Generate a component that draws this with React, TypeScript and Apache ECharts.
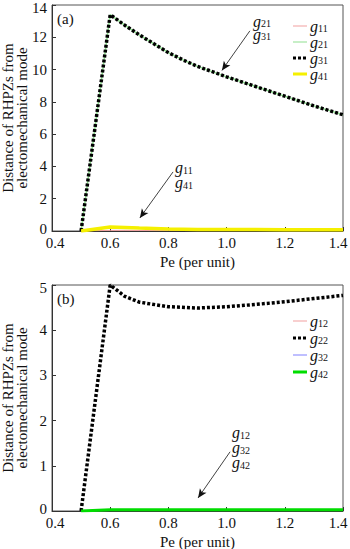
import React, { useEffect, useRef } from 'react';
import * as echarts from 'echarts';

// ---- data ----
const peA = [0.5, 0.6, 0.65, 0.7, 0.75, 0.8, 0.85, 0.9, 1.0, 1.1, 1.2, 1.3, 1.4];
const g11 = [0, 0.04, 0.04, 0.03, 0.03, 0.03, 0.03, 0.03, 0.03, 0.03, 0.03, 0.03, 0.03];
const g21 = [0, 13.4, 12.75, 12.15, 11.6, 11.05, 10.6, 10.2, 9.55, 8.95, 8.35, 7.75, 7.2];
const g31 = [0, 13.4, 12.75, 12.15, 11.6, 11.05, 10.6, 10.2, 9.55, 8.95, 8.35, 7.75, 7.2];
const g41 = [0, 0.25, 0.22, 0.18, 0.15, 0.12, 0.11, 0.1, 0.09, 0.09, 0.08, 0.08, 0.08];

const peB = [0.5, 0.6, 0.65, 0.7, 0.8, 0.9, 1.0, 1.1, 1.2, 1.3, 1.4];
const g12 = [0, 0.01, 0.01, 0.01, 0.01, 0.01, 0.01, 0.01, 0.01, 0.01, 0.01];
const g22 = [0, 5.0, 4.75, 4.62, 4.52, 4.49, 4.52, 4.57, 4.63, 4.7, 4.77];
const g32 = [0, 0.01, 0.01, 0.01, 0.01, 0.01, 0.01, 0.01, 0.01, 0.01, 0.01];
const g42 = [0, 0.03, 0.03, 0.03, 0.03, 0.03, 0.03, 0.03, 0.03, 0.03, 0.03];

const xTicks = { min: 0.4, max: 1.4, interval: 0.2 };
const yTicksA = { min: 0, max: 14, interval: 2 };
const yTicksB = { min: 0, max: 5, interval: 1 };

const legendA = ['g11', 'g21', 'g31', 'g41'];
const legendB = ['g12', 'g22', 'g32', 'g42'];
const colorsA = ['#f2a0a0', '#90e090', '#000000', '#f5f000'];
const colorsB = ['#f2a0a0', '#000000', '#8080ff', '#00dd00'];

const yName = ['Distance of RHPZs from', 'electomechanical mode'];
const xName = 'Pe (per unit)';

const FONT = '"Liberation Serif", "Times New Roman", serif';

const pairs = (xs: number[], ys: number[]) => xs.map((x, i) => [x, ys[i]]);
const sub = (names: string[], k = '') => names.map((n) => `{g${k}|g}{s${k}|${n.slice(1)}}`).join('\n');
const nm = (s: string) => `{n|${s}}`;

const base = { fontFamily: FONT, color: '#111' };
const rich: any = {
  g: { ...base, fontStyle: 'italic', fontSize: 16, lineHeight: 15 },
  s: { ...base, fontSize: 10, lineHeight: 10, verticalAlign: 'bottom' },
  g2: { ...base, fontStyle: 'italic', fontSize: 16, lineHeight: 13 },
  s2: { ...base, fontSize: 10, lineHeight: 8, verticalAlign: 'bottom' },
  t: { ...base, fontSize: 15, lineHeight: 12 },
  tr: { ...base, fontSize: 15, lineHeight: 12, padding: [0, 10, 0, 0] },
  tl: { ...base, fontSize: 15, lineHeight: 12, padding: [0, 0, 0, 6] },
  tt: { ...base, fontSize: 15, lineHeight: 12, padding: [6, 0, 0, 0] },
  tb: { ...base, fontSize: 15, lineHeight: 12, padding: [0, 0, 4, 0] },
  n: { ...base, fontSize: 15, lineHeight: 14 },
  p: { ...base, fontSize: 15, lineHeight: 15 },
};

// legend icons (14 x 10 box)
const ICON_THIN = 'path://M0,0h14v0.01h-14zM0,4.5h14v1h-14zM0,9.99h14v0.01h-14z';
const ICON_THICK = 'path://M0,0h14v0.01h-14zM0,3.5h14v3h-14zM0,9.99h14v0.01h-14z';
const ICON_DOT = 'path://M0,0h14v0.01h-14zM0,3.5h3v3h-3zM5,3.5h3v3h-3zM10,3.5h3v3h-3zM0,9.99h14v0.01h-14z';
const iconsA = [ICON_THIN, ICON_THIN, ICON_DOT, ICON_THICK];
const iconsB = [ICON_THIN, ICON_DOT, ICON_THIN, ICON_THICK];

export default function App() {
  const ref = useRef<HTMLDivElement>(null);
  useEffect(() => {
    document.body.style.margin = '0';
    const chart = echarts.init(ref.current!, undefined, { renderer: 'svg' });
    const axisText = { fontFamily: FONT, fontSize: 15, color: '#111', rich };
    const xAxis = (gi: number) => ({
      gridIndex: gi,
      type: 'value',
      ...xTicks,
      name: nm(xName),
      nameLocation: 'middle',
      nameGap: 24,
      nameMoveOverlap: false,
      nameTextStyle: { ...axisText },
      axisLine: { lineStyle: { color: '#333', width: 1 } },
      axisTick: { inside: true, length: 4, lineStyle: { color: '#333' } },
      axisLabel: {
        ...axisText,
        margin: 6,
        formatter: (v: number) => {
          const s = v.toFixed(1);
          if (s === xTicks.max.toFixed(1)) return `{tr|${s}}`;
          if (s === xTicks.min.toFixed(1)) return `{tl|${s}}`;
          return `{t|${s}}`;
        },
      },
      splitLine: { show: false },
    });
    const yAxis = (gi: number, t: any) => ({
      gridIndex: gi,
      type: 'value',
      ...t,
      name: yName.map(nm).join('\n'),
      nameLocation: 'middle',
      nameGap: 23,
      nameMoveOverlap: false,
      nameTextStyle: { ...axisText, lineHeight: 14 },
      axisLine: { lineStyle: { color: '#333', width: 1 } },
      axisTick: { inside: true, length: 4, lineStyle: { color: '#333' } },
      axisLabel: {
        ...axisText,
        margin: 5,
        formatter: (v: number) => (v === t.max ? `{tt|${v}}` : v === t.min ? `{tb|${v}}` : `{t|${v}}`),
      },
      splitLine: { show: false },
    });
    const line = (name: string, xs: number[], ys: number[], gi: number, color: string, width: number, type: any = 'solid', extra: any = {}) => ({
      name,
      type: 'line',
      xAxisIndex: gi,
      yAxisIndex: gi,
      data: pairs(xs, ys),
      symbol: 'none',
      lineStyle: { color, width, type },
      itemStyle: { color },
      ...extra,
    });
    const arrowStyle = {
      silent: true,
      symbol: ['none', 'arrow'],
      symbolSize: [6, 9],
      lineStyle: { color: '#111', width: 0.8, type: 'solid' },
      label: { show: false },
    };
    const legend = (names: string[], icons: string[], colors: string[], top: number, gap: number) => ({
      data: names.map((name, i) => ({ name, icon: icons[i], itemStyle: { color: colors[i], borderWidth: 0 } })),
      orient: 'vertical',
      left: 293,
      top,
      itemGap: gap,
      itemWidth: 14,
      itemHeight: 10,
      padding: 0,
      formatter: (n: string) => sub([n]),
      textStyle: { rich, lineHeight: 14, padding: [0, 0, 0, -2] },
    });
    const gridBase = { left: 52, width: 291, height: 226, show: true, borderColor: '#555', borderWidth: 1, containLabel: false, outerBoundsMode: 'none' };
    chart.setOption({
      animation: false,
      textStyle: { fontFamily: FONT },
      grid: [
        { ...gridBase, top: 5 },
        { ...gridBase, top: 285 },
      ],
      xAxis: [xAxis(0), xAxis(1)],
      yAxis: [yAxis(0, yTicksA), yAxis(1, yTicksB)],
      legend: [legend(legendA, iconsA, colorsA, 18, 0), legend(legendB, iconsB, colorsB, 313, 1)],
      series: [
        line('g11', peA, g11, 0, colorsA[0], 1),
        line('g21', peA, g21, 0, colorsA[1], 1.5),
        line('g31', peA, g31, 0, colorsA[2], 3.5, [3, 2], {
          markLine: {
            ...arrowStyle,
            data: [
              [{ coord: [1.08, 12.4] }, { coord: [0.984, 9.95] }],
              [{ coord: [0.816, 3.66] }, { coord: [0.702, 0.81] }],
            ],
          },
        }),
        line('g41', peA, g41, 0, colorsA[3], 3.5),
        line('g12', peB, g12, 1, colorsB[0], 1),
        line('g22', peB, g22, 1, colorsB[1], 3.5, [3, 2], {
          markLine: {
            ...arrowStyle,
            data: [[{ coord: [1.012, 1.31] }, { coord: [0.902, 0.29] }]],
          },
        }),
        line('g32', peB, g32, 1, colorsB[2], 1),
        line('g42', peB, g42, 1, colorsB[3], 3),
      ],
      graphic: [
        { type: 'text', x: 57, y: 11, style: { text: '{p|(a)}', rich, fill: '#111' } },
        { type: 'text', x: 57, y: 291, style: { text: '{p|(b)}', rich, fill: '#111' } },
        { type: 'text', x: 253, y: 15, style: { text: sub(['g21', 'g31'], '2'), rich, fill: '#111' } },
        { type: 'text', x: 175, y: 160, style: { text: sub(['g11', 'g41']), rich, fill: '#111' } },
        { type: 'text', x: 232, y: 425, style: { text: sub(['g12', 'g32', 'g42']), rich, fill: '#111' } },
      ],
    });
    return () => chart.dispose();
  }, []);
  return <div ref={ref} style={{ width: 350, height: 549, background: '#fff' }} />;
}
